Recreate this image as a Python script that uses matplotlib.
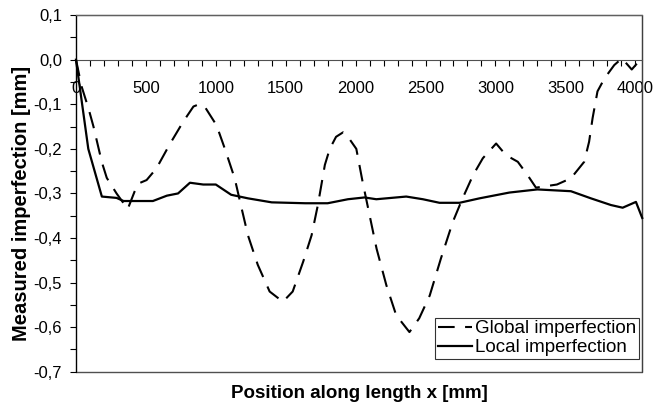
import matplotlib
matplotlib.use("Agg")
import matplotlib.pyplot as plt
from matplotlib.ticker import MultipleLocator, FuncFormatter
from matplotlib.patches import Rectangle

global_x = [0, 40, 90, 125, 185, 220, 290, 370, 420, 445, 505, 575, 670, 765, 840, 880, 920,
            1005, 1065, 1135, 1185, 1230, 1300, 1385, 1480, 1550, 1625, 1685, 1730, 1780, 1815,
            1860, 1910, 1945, 2005, 2050, 2100, 2150, 2220, 2290, 2385, 2455, 2530, 2610, 2695,
            2765, 2840, 2910, 3005, 3075, 3160, 3230, 3290, 3440, 3540, 3635, 3670, 3695, 3730,
            3780, 3850, 3905, 3975, 4050]
global_y = [0.0, -0.06, -0.11, -0.15, -0.23, -0.265, -0.30, -0.335, -0.295, -0.278, -0.27, -0.244,
            -0.19, -0.14, -0.105, -0.10, -0.105, -0.147, -0.20, -0.266, -0.334, -0.394, -0.46,
            -0.52, -0.543, -0.52, -0.453, -0.394, -0.326, -0.236, -0.20, -0.173, -0.163, -0.173,
            -0.20, -0.274, -0.349, -0.424, -0.506, -0.573, -0.611, -0.58, -0.529, -0.446, -0.364,
            -0.311, -0.259, -0.221, -0.188, -0.214, -0.229, -0.259, -0.287, -0.28, -0.266, -0.229,
            -0.184, -0.131, -0.071, -0.042, -0.012, 0.003, -0.022, 0.005]

local_x = [0, 88, 185, 290, 340, 550, 650, 730, 815, 910, 1000, 1110, 1230, 1400, 1640, 1800,
           1945, 2064, 2148, 2362, 2481, 2600, 2743, 2886, 3100, 3300, 3540, 3683, 3826, 3910,
           4005, 4050]
local_y = [0.0, -0.20, -0.307, -0.310, -0.317, -0.317, -0.305, -0.300, -0.276, -0.280, -0.280,
           -0.303, -0.311, -0.320, -0.322, -0.322, -0.313, -0.309, -0.313, -0.307, -0.313, -0.321,
           -0.321, -0.311, -0.298, -0.291, -0.295, -0.311, -0.326, -0.332, -0.319, -0.355]

series_labels = ["Global imperfection", "Local imperfection"]
x_label = "Position along length x [mm]"
y_label = "Measured imperfection [mm]"

plt.rcParams['font.family'] = ['Liberation Sans', 'DejaVu Sans']

fig = plt.figure(figsize=(6.54, 4.03), dpi=100)
ax = fig.add_axes([0.1162, 0.0775, 0.8658, 0.885])

ax.plot(global_x, global_y, color='black', lw=1.5, linestyle=(0, (8, 5)),
        label=series_labels[0], clip_on=False, zorder=3)
ax.plot(local_x, local_y, color='black', lw=1.6, label=series_labels[1],
        clip_on=False, zorder=3)

ax.set_xlim(0, 4050)
ax.set_ylim(-0.7, 0.1)

ax.spines['bottom'].set_position(('data', 0))
ax.spines['bottom'].set_color('#505050')
ax.spines['top'].set_color('#606060')
ax.spines['right'].set_color('#404040')
ax.spines['left'].set_color('black')
ax.add_patch(Rectangle((0, 0), 1, 1, transform=ax.transAxes, fill=False,
                       edgecolor='#505050', lw=1.0, clip_on=False, zorder=1))

ax.xaxis.set_major_locator(MultipleLocator(500))
ax.xaxis.set_minor_locator(MultipleLocator(100))
ax.yaxis.set_major_locator(MultipleLocator(0.1))
ax.yaxis.set_minor_locator(MultipleLocator(0.05))

ax.xaxis.set_major_formatter(FuncFormatter(lambda v, p: f"{int(round(v))}"))
ax.yaxis.set_major_formatter(FuncFormatter(lambda v, p: f"{v:.1f}".replace('.', ',').replace('-0,0', '0,0')))

ax.tick_params(axis='x', which='both', direction='out', length=4, width=0.8, pad=11,
               labelsize=12, colors='black')
ax.tick_params(axis='y', which='both', direction='out', length=4, width=0.8, pad=6,
               labelsize=12)

ax.set_xlabel(x_label, fontsize=13.5, fontweight='bold')
ax.xaxis.set_label_coords(0.5, -0.037)
ax.set_ylabel(y_label, fontsize=14.5, fontweight='bold')
ax.yaxis.set_label_coords(-0.079, 0.472)

leg = ax.legend(loc='lower right', bbox_to_anchor=(0.995, 0.035), fontsize=13.5,
                frameon=True, fancybox=False, edgecolor='black', handlelength=1.8,
                handletextpad=0.2, borderpad=0.15, labelspacing=0.1, borderaxespad=0)
leg.get_frame().set_linewidth(0.8)

fig.savefig("out.png", dpi=100)
